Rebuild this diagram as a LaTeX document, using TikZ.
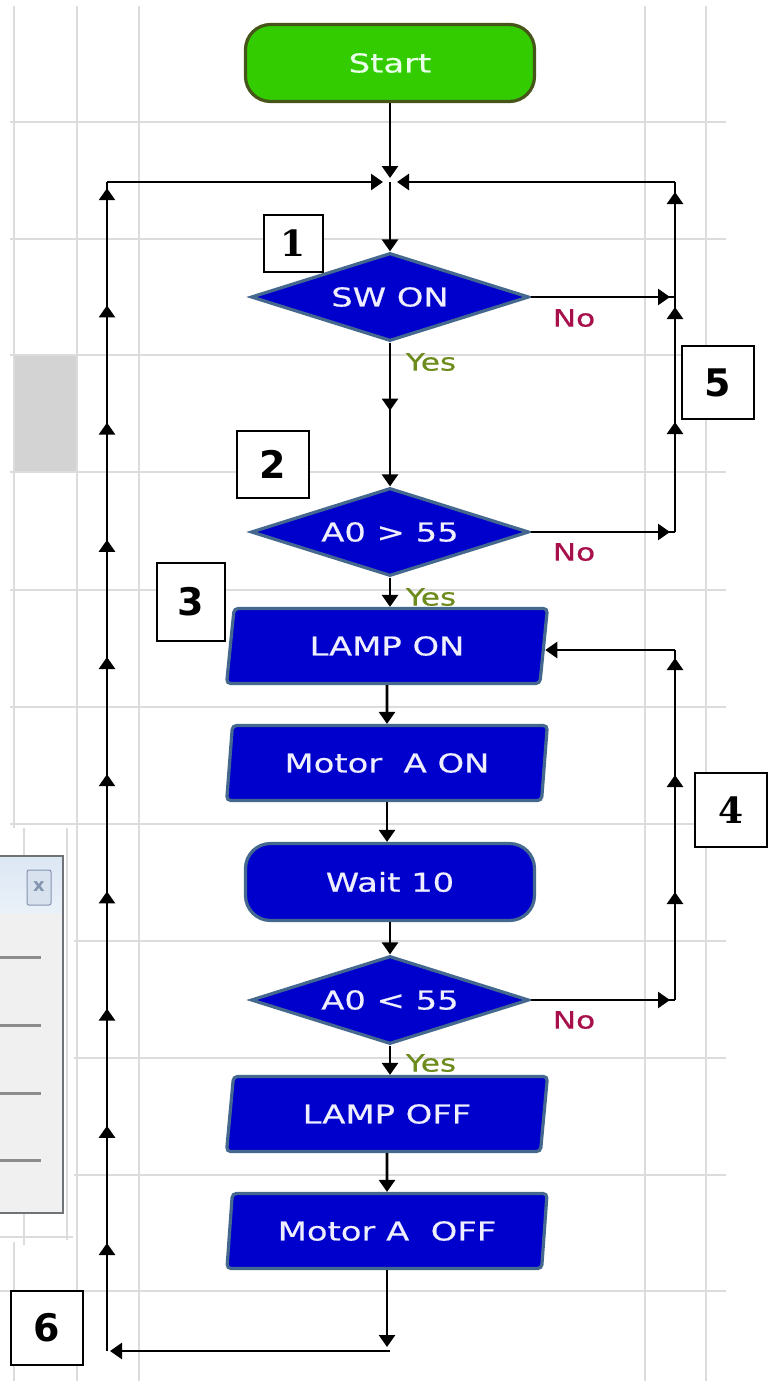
\documentclass[tikz,border=0pt]{standalone}
\usepackage{fontspec}
\newfontfamily\flowfont{DejaVu Sans}[FakeStretch=1.3, FakeBold=0.5]
\newfontfamily\numsans{DejaVu Sans}
\newfontfamily\numserif{DejaVu Serif}
\usetikzlibrary{shapes.geometric,arrows.meta,decorations.markings}
\definecolor{fcblue}{HTML}{0000CC}
\definecolor{fcborder}{HTML}{45698E}
\definecolor{fcgreen}{HTML}{33CC00}
\definecolor{fcgreenb}{HTML}{46551A}
\definecolor{gridc}{HTML}{DCDCDC}
\definecolor{cellc}{HTML}{D3D3D3}
\definecolor{yesc}{HTML}{6E8C1E}
\definecolor{noc}{HTML}{A8104C}
\definecolor{txtc}{HTML}{EEEEFF}
\definecolor{starttxt}{HTML}{E8FFE8}
\definecolor{panelbody}{HTML}{F0F0F0}
\definecolor{panelhead}{HTML}{DCE7F4}
\definecolor{panelframe}{HTML}{6F7378}
\definecolor{closeb}{HTML}{8494B0}
\definecolor{closef}{HTML}{D8E2EE}
\definecolor{menuline}{HTML}{8C8C8C}
\tikzset{
  tipA/.tip={Triangle[width=16pt,length=12pt]},
  flow/.style={draw=black, line width=2.6pt},
  midarrows/.style={postaction={decorate}, decoration={markings, mark=#1}},
  flowtext/.style={font=\flowfont\fontsize{26}{28}\selectfont, text=txtc},
  shapeline/.style={draw=fcborder, line width=3.2pt},
  decision/.style={diamond, aspect=3.1, inner sep=0pt, minimum width=278pt, minimum height=88pt, fill=fcblue, shapeline, flowtext},
  iobox/.style={trapezium, trapezium left angle=79, trapezium right angle=101, trapezium stretches=true, minimum width=321pt, minimum height=75pt, inner sep=0pt, fill=fcblue, shapeline, rounded corners=4pt, flowtext},
  terminal/.style={rectangle, rounded corners=25pt, minimum width=289pt, minimum height=77pt, inner sep=0pt, line width=3.2pt, flowtext},
  numbox/.style={draw=black, line width=1.6pt, fill=white, inner sep=0pt},
  sansnum/.style={font=\numsans\bfseries\fontsize{38}{40}\selectfont},
  serifnum/.style={font=\numserif\bfseries\fontsize{36}{40}\selectfont},
  yeslabel/.style={font=\flowfont\fontsize{24}{26}\selectfont, text=yesc, inner sep=0pt},
  nolabel/.style={font=\flowfont\fontsize{24}{26}\selectfont, text=noc, inner sep=0pt},
  gridline/.style={draw=gridc, line width=2pt},
}
\begin{document}
\begin{tikzpicture}[x=1pt, y=-1pt]
\useasboundingbox (0,0) rectangle (774,1381);
\fill[white] (0,0) rectangle (774,1381);
% ---------- background grid ----------
\fill[cellc] (15,356) rectangle (76,471);
\foreach \yy in {122,239,355,472,590,707,824}
  \draw[gridline] (10,\yy) -- (726,\yy);
\foreach \yy in {941,1058,1175}
  \draw[gridline] (74,\yy) -- (726,\yy);
\draw[gridline] (0,1291) -- (726,1291);
\draw[gridline] (0,1237) -- (73,1237);
\draw[gridline] (14,6) -- (14,828);
\draw[gridline] (14,1242) -- (14,1381);
\draw[gridline] (24,828) -- (24,1245);
\draw[gridline] (67,828) -- (67,1240);
\foreach \xx in {77,139,645,706}
  \draw[gridline] (\xx,6) -- (\xx,1381);
% ---------- side panel ----------
\fill[panelbody] (0,856) rectangle (63,1213);
\shade[top color=panelhead, bottom color=panelhead!60!white] (0,857) rectangle (62,913);
\draw[panelframe, line width=1.5pt] (0,856) -- (63,856) -- (63,1213) -- (0,1213);
\draw[closeb, fill=closef, line width=1pt, rounded corners=2pt] (27,870) rectangle (51,905);
\node[font=\numsans\bfseries\fontsize{18}{18}\selectfont, text=closeb, inner sep=0pt] (closex) at (39,887) {x};
\foreach \yy in {957,1025,1093,1160}
  \draw[menuline, line width=3pt] (0,\yy) -- (41,\yy);
% ---------- flowchart nodes ----------
\node[terminal, fill=fcgreen, draw=fcgreenb, text=starttxt] (start) at (390,63) {Start};
\node[decision] (sw) at (390,297) {SW ON};
\node[decision] (ag) at (390,532) {A0 > 55};
\node[iobox] (lampon) at (387,646) {LAMP ON};
\node[iobox] (motoron) at (387,763) {Motor\ \ A ON};
\node[terminal, fill=fcblue, draw=fcborder] (wait) at (390,882) {Wait 10};
\node[decision] (al) at (390,1000) {A0 < 55};
\node[iobox] (lampoff) at (387,1114) {LAMP OFF};
\node[iobox] (motoroff) at (387,1231) {Motor A\ \ OFF};
% labels
\node[nolabel] (no1) at (574,318) {No};
\node[nolabel] (no2) at (574,552) {No};
\node[nolabel] (no3) at (574,1020) {No};
\node[yeslabel] (yes1) at (431,362) {Yes};
\node[yeslabel] (yes2) at (431,597) {Yes};
\node[yeslabel] (yes3) at (431,1063) {Yes};
% ---------- coordinates ----------
\coordinate (j) at (390,182);
\coordinate (tl) at (107,182);
\coordinate (bl) at (107,1351);
\coordinate (bm) at (390,1351);
\coordinate (r5t) at (675,182);
\coordinate (r5m) at (675,297);
\coordinate (r5b) at (675,532);
\coordinate (r4t) at (675,650);
\coordinate (r4b) at (675,1000);
% ---------- connectors ----------
\draw[flow, -{tipA}, shorten >=4pt] (start.south) -- (j);
\draw[flow, -{tipA}] (j) -- (sw.north);
\draw[flow, -{tipA}, midarrows={at position 68pt with {\arrow{tipA}}}] (sw.south) -- (ag.north);
\draw[flow, -{tipA}] (ag.south) -- (ag.south |- lampon.north);
\draw[flow, -{tipA}] (lampon.south) -- (motoron.north);
\draw[flow, -{tipA}] (motoron.south) -- (motoron.south |- wait.north);
\draw[flow, -{tipA}] (wait.south) -- (wait.south |- al.north);
\draw[flow, -{tipA}] (al.south) -- (al.south |- lampoff.north);
\draw[flow, -{tipA}] (lampoff.south) -- (motoroff.north);
% loop 6 (back to top)
\draw[flow, -{tipA}, shorten >=4pt] (motoroff.south) -- (motoroff.south |- bm);
\draw[flow, -{tipA}, shorten >=3pt] (bm) -- (bl);
\draw[flow, midarrows={between positions 108pt and 1165pt step 117.2pt with {\arrow{tipA}}}] (bl) -- (tl);
\draw[flow, -{tipA}, shorten >=7pt] (tl) -- (j);
% loop 5
\draw[flow, midarrows={at position -5pt with {\arrow{tipA}}}] (sw.east) -- (r5m);
\draw[flow, midarrows={at position -5pt with {\arrow{tipA}}}] (ag.east) -- (r5b);
\draw[flow, midarrows={between positions 110pt and 342pt step 115pt with {\arrow{tipA}}}] (r5b) -- (r5t);
\draw[flow, -{tipA}, shorten >=7pt] (r5t) -- (j);
% loop 4
\draw[flow, midarrows={at position -5pt with {\arrow{tipA}}}] (al.east) -- (r4b);
\draw[flow, midarrows={between positions 108pt and 343pt step 117pt with {\arrow{tipA}}}] (r4b) -- (r4t);
\draw[flow, -{tipA}] (r4t) -- (r4t -| lampon.east);
% ---------- number boxes ----------
\node[numbox, serifnum, minimum width=59pt, minimum height=57pt] (n1) at (293.5,243.5) {1};
\node[numbox, sansnum, minimum width=72pt, minimum height=67pt] (n2) at (273,464.5) {2};
\node[numbox, sansnum, minimum width=68pt, minimum height=78pt] (n3) at (191,602) {3};
\node[numbox, serifnum, minimum width=72pt, minimum height=74pt] (n4) at (731,810) {4};
\node[numbox, sansnum, minimum width=72pt, minimum height=73pt] (n5) at (718,382.5) {5};
\node[numbox, sansnum, minimum width=72pt, minimum height=74pt] (n6) at (47,1328) {6};
\end{tikzpicture}
\end{document}
